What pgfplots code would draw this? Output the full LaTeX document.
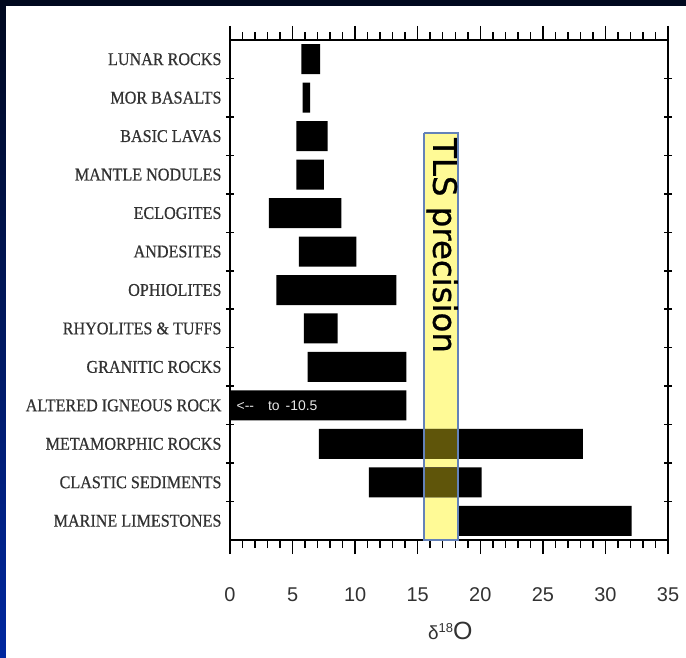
\documentclass[border=0pt]{standalone}
\usepackage{pgfplots}
\pgfplotsset{compat=1.18}
\usepackage{fontspec}
\setmainfont{Liberation Sans}
\newfontfamily\labfont[FakeStretch=0.9, FakeBold=0.6]{Liberation Serif}
\newfontfamily\dejavu[FakeBold=0.8]{DejaVu Sans}
\definecolor{bandyellow}{RGB}{255,250,150}
\definecolor{bandedge}{RGB}{100,130,185}
\definecolor{overlapc}{RGB}{95,85,10}
\definecolor{ticklab}{RGB}{50,50,50}
\definecolor{bgtop}{RGB}{0,8,30}
\definecolor{bgbot}{RGB}{0,40,160}
\pgfplotsset{base/.style={at={(230bp,118bp)}, anchor=south west, scale only axis,
  width=438bp, height=500bp, xmin=0, xmax=35, ymin=-0.5, ymax=12.5, y dir=reverse}}
\begin{document}
\begin{tikzpicture}
\shade[top color=bgtop, bottom color=bgbot] (0,0) rectangle (686bp,658bp);
\fill[white] (6bp,0) rectangle (686bp,652bp);
% band background
\begin{axis}[base, hide axis]
\addplot[fill=bandyellow, draw=none] coordinates {(15.5,1.92) (18.2,1.92) (18.2,12.5) (15.5,12.5) (15.5,1.92)};
\end{axis}
% bars and frame
\begin{axis}[base,
  xbar stacked, bar width=0.78,
  axis line style={line width=1.5bp},
  xtick={0,5,...,35}, minor xtick={1,...,34},
  xtick pos=both, xtick align=outside,
  major tick length=14bp, minor tick length=8bp,
  every tick/.style={black, line width=1.5bp},
  ytick={0,...,12},
  yticklabels={LUNAR ROCKS,MOR BASALTS,BASIC LAVAS,MANTLE NODULES,ECLOGITES,ANDESITES,OPHIOLITES,RHYOLITES \& TUFFS,GRANITIC ROCKS,ALTERED IGNEOUS ROCK,METAMORPHIC ROCKS,CLASTIC SEDIMENTS,MARINE LIMESTONES},
  minor ytick={0.5,1.5,...,11.5},
  ytick pos=both, ytick align=center,
  major y tick style={draw=none},
  minor y tick style={black, line width=1.5bp},
  /pgf/number format/assume math mode=true,
  xticklabel style={font=\fontsize{20}{24}\selectfont, text=ticklab, yshift=-30bp},
  yticklabel style={font=\labfont\fontsize{18}{18}\selectfont, text=ticklab, xshift=2bp},
  xlabel={{\fontsize{19}{20}\selectfont δ}\raisebox{7bp}{\fontsize{13}{14}\selectfont 18}{\fontsize{25}{26}\selectfont O}},
  xlabel style={at={(axis description cs:0.503,0)}, anchor=center, yshift=-91bp, text=ticklab},
]
\addplot[draw=none, fill=none] coordinates {(5.7,0) (5.8,1) (5.3,2) (5.3,3) (3.1,4) (5.5,5) (3.7,6) (5.9,7) (6.2,8) (0,9) (7.1,10) (11.1,11) (18.3,12)};
\addplot[fill=black, draw=none] coordinates {(1.5,0) (0.6,1) (2.5,2) (2.2,3) (5.8,4) (4.6,5) (9.6,6) (2.7,7) (7.9,8) (14.1,9) (21.1,10) (9.0,11) (13.8,12)};
\end{axis}
% band overlay
\begin{axis}[base, hide axis]
\addplot[fill=overlapc, draw=none, blend mode=lighten] coordinates {(15.5,1.92) (18.2,1.92) (18.2,12.5) (15.5,12.5) (15.5,1.92)};
\addplot[draw=bandedge, line width=2bp] coordinates {(15.5,1.92) (18.2,1.92) (18.2,12.5) (15.5,12.5) (15.5,1.92)};
\node[rotate=-90, anchor=west, font=\dejavu\fontsize{32.5}{34}\selectfont] at (axis cs:16.95,1.96) {TLS precision};
\node[anchor=west, text={rgb,255:red,230;green,230;blue,230}, font=\fontsize{14}{15}\selectfont] at (axis cs:0.25,9) {{<}{-}{-}\hspace{14bp}to\hspace{6bp}{-}10.5};
\end{axis}
\end{tikzpicture}
\end{document}
